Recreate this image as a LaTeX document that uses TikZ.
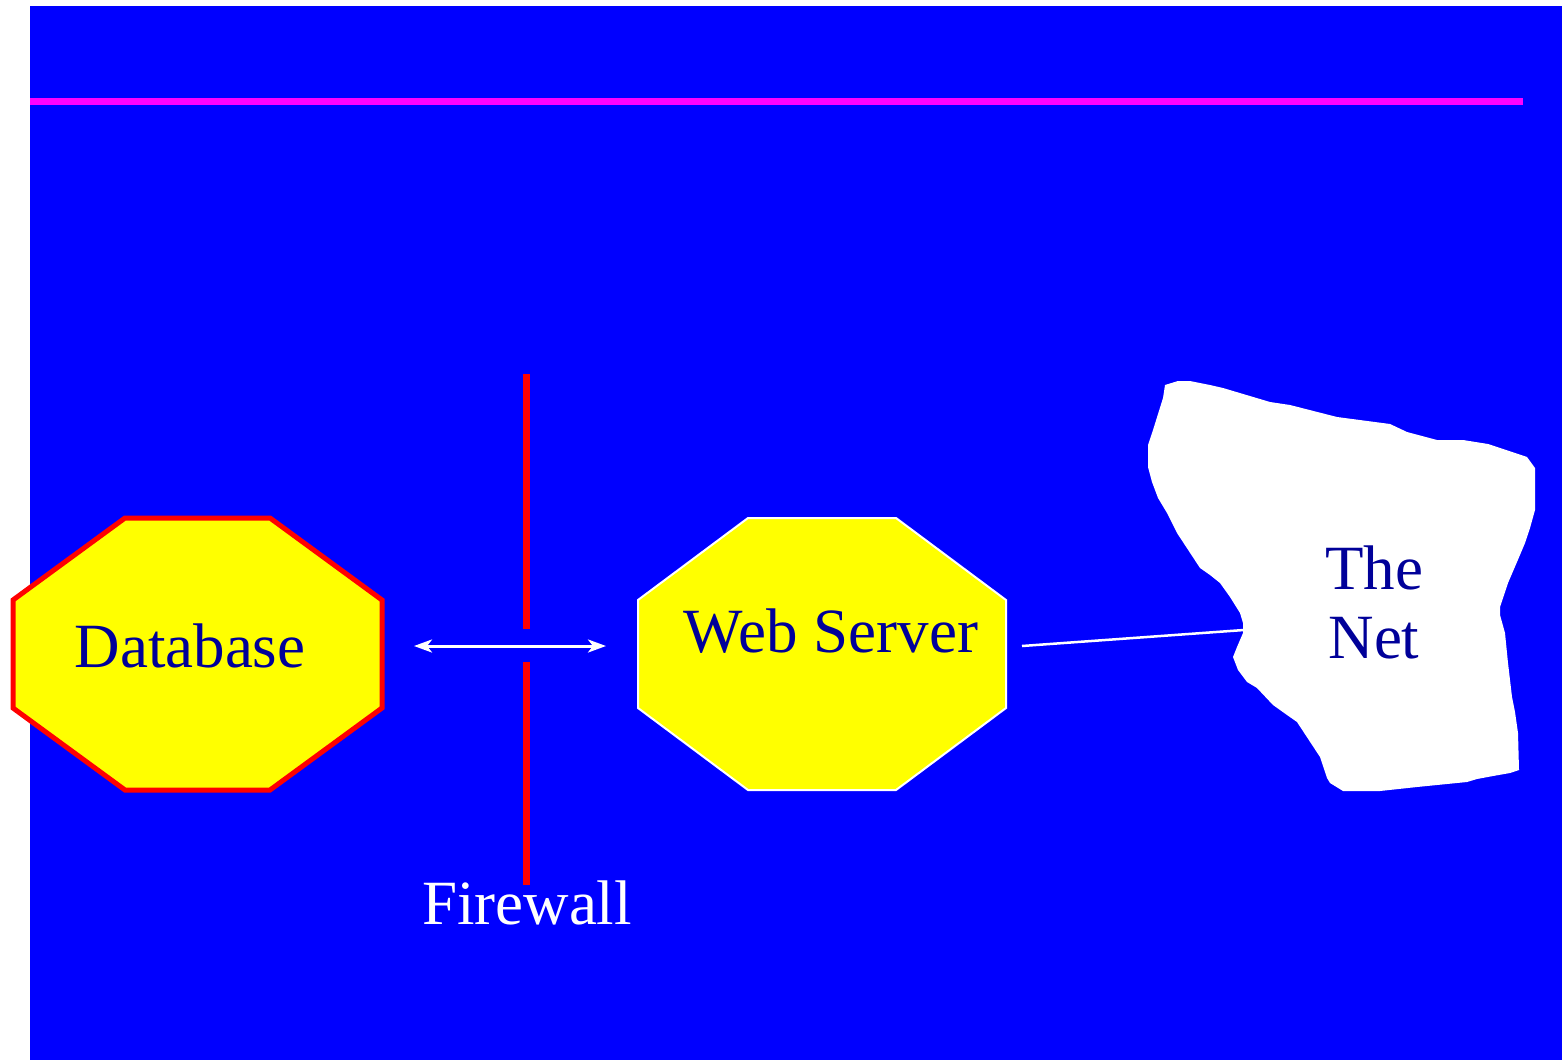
\documentclass[tikz,border=0pt]{standalone}
\usepackage{fontspec}
\setmainfont{Liberation Serif}
\usetikzlibrary{arrows.meta}
\definecolor{bgblue}{RGB}{0,0,255}
\definecolor{txtblue}{RGB}{0,0,153}
\definecolor{rulemag}{RGB}{255,0,255}
\definecolor{fwred}{RGB}{255,0,0}
\definecolor{boxyellow}{RGB}{255,255,0}
\tikzset{
  lbl/.style={font=\fontsize{63}{69}\selectfont, text=txtblue, align=center, inner sep=0pt},
  octo/.style={fill=boxyellow, line join=miter},
  wall/.style={draw=fwred, line width=7pt},
  dblarrow/.style={white, line width=3pt, >={Stealth[length=18pt,width=13pt,inset=5pt]}, <->},
}
\begin{document}
\begin{tikzpicture}[x=1pt,y=-1pt]
\useasboundingbox (0,0) rectangle (1562,1060);
\fill[white] (0,0) rectangle (1562,1060);
\fill[bgblue] (30,6) rectangle (1562,1060);
% title rule
\fill[rulemag] (30,98) rectangle (1523,105);
% Database octagon
\draw[octo, draw=fwred, line width=5pt] (125,518) -- (270,518) -- (382,600) -- (382,708) -- (270,790) -- (125,790) -- (13,708) -- (13,600) -- cycle;
\node[lbl] (db) at (190,646) {Database};
% Web server octagon
\draw[octo, draw=white, line width=2pt] (748,518) -- (896,518) -- (1006,600) -- (1006,708) -- (896,790) -- (748,790) -- (638,708) -- (638,600) -- cycle;
\node[lbl] (ws) at (831,631) {Web Server};
% cloud
\fill[white] (1165,385) -- (1178,381) -- (1190,381) -- (1210,385) -- (1223,388) -- (1270,402) -- (1290,405) -- (1337,417) -- (1390,424) -- (1407,432) -- (1437,440) -- (1463,440) -- (1488,444) -- (1527,457) -- (1535,468) -- (1535,510) -- (1530,528) -- (1525,543) -- (1517,562) -- (1508,583) -- (1500,607) -- (1500,615) -- (1505,633) -- (1508,663) -- (1512,697) -- (1515,712) -- (1518,733) -- (1519,770) -- (1510,773) -- (1493,776) -- (1477,779) -- (1467,782) -- (1437,785) -- (1417,787) -- (1380,791) -- (1343,791) -- (1330,783) -- (1327,778) -- (1320,757) -- (1297,722) -- (1287,715) -- (1273,705) -- (1257,688) -- (1247,682) -- (1238,670) -- (1233,657) -- (1237,647) -- (1243,633) -- (1243,623) -- (1240,613) -- (1230,597) -- (1220,583) -- (1210,575) -- (1200,568) -- (1177,533) -- (1173,525) -- (1167,513) -- (1158,498) -- (1152,482) -- (1148,467) -- (1148,445) -- (1153,430) -- (1163,398) -- cycle;
\node[lbl] (net) at (1374,602) {The\\Net};
% firewall
\coordinate (fwtop) at (526,374);
\coordinate (fwgapT) at (526,629);
\coordinate (fwgapB) at (526,662);
\coordinate (fwbot) at (526,885);
\draw[wall] (fwtop) -- (fwgapT);
\draw[wall] (fwgapB) -- (fwbot);
\node[lbl, text=white] (fwl) at (527,903) {Firewall};
% double arrow
\coordinate (arrL) at (414,646);
\coordinate (arrR) at (606,646);
\draw[dblarrow] (arrL) -- (arrR);
% link web server to net
\coordinate (wsR) at (1022,646);
\coordinate (netL) at (1244,630);
\draw[white, line width=2.5pt] (wsR) -- (netL);
\end{tikzpicture}
\end{document}
